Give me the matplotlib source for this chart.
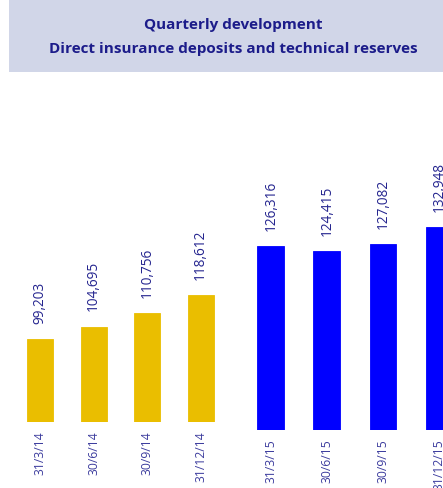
import matplotlib
matplotlib.use("Agg")
import matplotlib.pyplot as plt
from matplotlib.patches import Rectangle

# ---- data ----
dates_2014 = ["31/3/14", "30/6/14", "30/9/14", "31/12/14"]
values_2014 = [99203, 104695, 110756, 118612]
dates_2015 = ["31/3/15", "30/6/15", "30/9/15", "31/12/15"]
values_2015 = [126316, 124415, 127082, 132948]

title_lines = ["Quarterly development", "Direct insurance deposits and technical reserves"]

YELLOW = "#EABE00"
BLUE = "#0000FF"
NAVY = "#1C1C8A"
LABEL_NAVY = "#25258F"
DATE_COL = "#3D3D9E"
BOX = "#D1D6E8"

W, H = 443, 488
fig = plt.figure(figsize=(W / 100, H / 100), dpi=100)
plt.rcParams["font.family"] = ["Open Sans", "DejaVu Sans"]


def px_axes(x0, x1, ytop, ybot):
    return fig.add_axes([x0 / W, 1 - ybot / H, (x1 - x0) / W, (ybot - ytop) / H])


# title box
fig.patches.append(Rectangle((9 / W, 1 - 72 / H), (443 - 9) / W, 72 / H,
                             transform=fig.transFigure, facecolor=BOX,
                             edgecolor="none", zorder=0))
fig.text(233 / W, 1 - 25 / H, title_lines[0], ha="center", va="center",
         fontsize=11, fontweight="bold", color=NAVY)
fig.text(233 / W, 1 - 49 / H, title_lines[1], ha="center", va="center",
         fontsize=11, fontweight="bold", color=NAVY)


def panel(ax, dates, values, color, ylim, xlim):
    x = list(range(len(values)))
    ax.bar(x, values, width=0.48, color=color, edgecolor=color, linewidth=0.6)
    ax.set_ylim(*ylim)
    ax.set_xlim(*xlim)
    for xi, v in zip(x, values):
        ax.annotate(f"{v:,}", (xi, v), xytext=(0, 11), textcoords="offset points",
                    rotation=90, ha="center", va="bottom", fontsize=9.8,
                    color=LABEL_NAVY, annotation_clip=False)
    ax.set_xticks(x)
    ax.set_xticklabels(dates, rotation=90, fontsize=8.7, color=DATE_COL)
    ax.tick_params(axis="x", length=0, pad=7)
    ax.set_yticks([])
    for s in ax.spines.values():
        s.set_visible(False)
    ax.patch.set_alpha(0)


# left panel (2014): baseline at 421.7px, ~0.00228 px per unit
ax1 = px_axes(0, 230, 100, 421.7)
ppu1 = 0.00228
y0_1 = 63060
ax1_ylim = (y0_1, y0_1 + (421.7 - 100) / ppu1)
panel(ax1, dates_2014, values_2014, YELLOW, ax1_ylim, (-0.751, 3.548))

# right panel (2015): baseline at 430px, ~0.002865 px per unit
ax2 = px_axes(235, 443, 100, 430)
ppu2 = 0.002865
y0_2 = 62090
ax2_ylim = (y0_2, y0_2 + (430 - 100) / ppu2)
panel(ax2, dates_2015, values_2015, BLUE, ax2_ylim, (-0.638, 3.069))

fig.savefig("out.png", dpi=100)
